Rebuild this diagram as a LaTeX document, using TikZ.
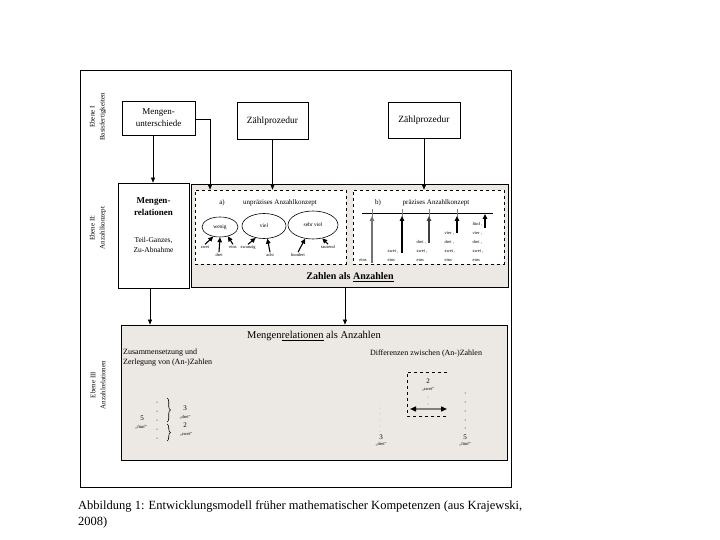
\documentclass[tikz,border=0pt]{standalone}
\usepackage{fontspec}
\setmainfont{Liberation Serif}
\usetikzlibrary{arrows.meta,decorations.pathreplacing,shapes.geometric}
\definecolor{panelc}{RGB}{236,233,229}
\begin{document}
\begin{tikzpicture}[x=1pt,y=-1pt,
  box/.style={draw, line width=0.7pt, fill=white, inner sep=0pt, align=center},
  panel/.style={draw, line width=0.8pt, fill=panelc, inner sep=0pt},
  dbox/.style={draw, dashed, line width=0.7pt, fill=white, inner sep=0pt},
  ell/.style={draw, ellipse, line width=0.6pt, inner sep=0pt, font=\fontsize{5.5}{6}\selectfont},
  arr/.style={-{Triangle[length=5pt,width=4pt]}, line width=0.6pt},
  sarr/.style={-{Triangle[length=5pt,width=4.5pt]}, line width=1.1pt},
  lvl/.style={rotate=90, align=center, font=\fontsize{7}{10}\selectfont},
  wlab/.style={inner sep=0.5pt, anchor=base, font=\fontsize{4.5}{9}\selectfont},
  qlab/.style={inner sep=0pt, font=\fontsize{4.5}{9}\selectfont},
  col/.style={inner sep=0pt, align=left, font=\fontsize{4.5}{9}\selectfont},
  hdr/.style={inner sep=0pt, font=\fontsize{7}{8}\selectfont},
  txt/.style={inner sep=0pt, align=left, font=\fontsize{8}{10}\selectfont},
  num/.style={inner sep=0pt, font=\fontsize{7}{8}\selectfont},
  dot/.style={fill=black, circle, inner sep=0pt, minimum size=1pt}
]
\useasboundingbox (0,0) rectangle (720,540);

% outer frame
\draw[line width=0.9pt] (80,70) rectangle (511,487);

% level labels
\node[lvl] (lvlI) at (98,117) {Ebene I\\Basisfertigkeiten};
\node[lvl] (lvlII) at (98,228) {Ebene II:\\Anzahlkonzept};
\node[lvl] (lvlIII) at (98,385) {Ebene III\\Anzahlrelationen};

% level I boxes
\node[box, minimum width=73pt, minimum height=34pt, font=\fontsize{9}{12}\selectfont] (mu) at (158.5,118) {Mengen-\\unterschiede};
\node[box, minimum width=71pt, minimum height=37pt, font=\fontsize{9.5}{11}\selectfont] (zp1) at (272.5,121) {Zählprozedur};
\node[box, minimum width=72pt, minimum height=36pt, font=\fontsize{9.5}{11}\selectfont] (zp2) at (424,120) {Zählprozedur};

% level II
\node[box, minimum width=71pt, minimum height=105pt] (mr) at (153.5,235.5) {};
\node[inner sep=0pt, align=center, font=\bfseries\fontsize{9}{12}\selectfont] (mrt) at (153.5,207) {Mengen-\\relationen};
\node[inner sep=0pt, align=center, font=\fontsize{7.5}{10}\selectfont] (mrs) at (153.5,245) {Teil-Ganzes,\\Zu-Abnahme};

\node[panel, minimum width=317pt, minimum height=103pt] (p2) at (349.5,235.5) {};
\node[dbox, minimum width=151pt, minimum height=74pt] (da) at (270.5,227) {};
\node[dbox, minimum width=151pt, minimum height=74pt] (db) at (428.5,227) {};
\node[inner sep=0pt, font=\bfseries\fontsize{10}{12}\selectfont] (p2t) at (350,277) {Zahlen als \underline{Anzahlen}};

% box a
\node[hdr] (ha) at (222,203) {a)};
\node[hdr] (hat) at (280,203) {unpräzises Anzahlkonzept};
\node[ell, minimum width=36pt, minimum height=20pt] (wenig) at (220,227) {wenig};
\node[ell, minimum width=44pt, minimum height=25pt] (viel) at (264,226) {viel};
\node[ell, minimum width=50pt, minimum height=28pt] (sviel) at (313,225) {sehr viel};
\node[wlab] (lzwei) at (205,248) {zwei};
\node[wlab] (ldrei) at (219,256) {drei};
\node[wlab] (leins) at (233,248) {eins};
\node[wlab] (lzwanzig) at (248,248) {zwanzig};
\node[wlab] (lacht) at (270,256) {acht};
\node[wlab] (lhundert) at (298,256) {hundert};
\node[wlab] (ltausend) at (328,248) {tausend};
\draw[sarr] (lzwei.north) -- (wenig.235);
\draw[sarr] (ldrei.north) -- (wenig.south);
\draw[sarr] (leins.north) -- (wenig.310);
\draw[sarr] (lzwanzig.north) -- (viel.235);
\draw[sarr] (lacht.north) -- (viel.285);
\draw[sarr] (lhundert.north) -- (sviel.240);
\draw[sarr] (ltausend.north) -- (sviel.305);

% box b
\node[hdr] (hb) at (378,203) {b)};
\node[hdr] (hbt) at (436,203) {präzises Anzahlkonzept};
\coordinate (nlL) at (362,213);
\coordinate (nlR) at (493,213);
\draw[line width=0.7pt] (nlL) -- (nlR);
\foreach \x in {372,402,429,457} \draw[line width=0.6pt, gray] (\x,209) -- (\x,217);
\node[col] (c1) at (363,260) {eins};
\node[col] (c2) at (393,255.5) {zwei ,\\eins};
\node[col] (c3) at (422,251) {drei ,\\zwei ,\\eins};
\node[col] (c4) at (450,246.5) {vier ,\\drei ,\\zwei ,\\eins};
\node[col] (c5) at (478,242) {fünf ,\\vier ,\\drei ,\\zwei ,\\eins};
\coordinate (b1) at (372,263); \coordinate (t1) at (372,216);
\coordinate (b2) at (402,253); \coordinate (t2) at (402,216);
\coordinate (b3) at (429,243); \coordinate (t3) at (429,216);
\coordinate (b4) at (457,233); \coordinate (t4) at (457,216);
\coordinate (b5) at (485,228); \coordinate (t5) at (485,214);
\draw[sarr, black!55] (b1) -- (t1);
\draw[sarr] (b2) -- (t2);
\draw[sarr, black!75] (b3) -- (t3);
\draw[sarr] (b4) -- (t4);
\draw[sarr] (b5) -- (t5);

% level III panel
\node[panel, minimum width=386pt, minimum height=135pt] (p3) at (314,392.5) {};
\node[inner sep=0pt, font=\fontsize{10.5}{12}\selectfont] (p3t) at (314,336) {Mengen\underline{relationen} als Anzahlen};
\node[txt, anchor=west] (zus) at (123,358) {Zusammensetzung und\\Zerlegung von (An-)Zahlen};
\node[txt, anchor=west] (diff) at (370,354) {Differenzen zwischen (An-)Zahlen};

% composition
\foreach \y in {402,411,420,429,438} \node[dot] at (157,\y) {};
\node[num] (five) at (142,418) {5};
\node[qlab] (fuenf) at (141,427) {„fünf“};
\draw[decorate, decoration={brace, amplitude=3.5pt}, line width=0.6pt] (167,398) -- (167,422);
\draw[decorate, decoration={brace, amplitude=3.5pt}, line width=0.6pt] (167,424) -- (167,441);
\node[num] (three) at (185,408) {3};
\node[qlab] (drei2) at (185,417) {„drei“};
\node[num] (two) at (185,425) {2};
\node[qlab] (zwei2) at (186,434) {„zwei“};

% differences
\foreach \y in {408,414,420,426,431} \node[dot, fill=gray!60] at (380,\y) {};
\node[num] (three3) at (381,437) {3};
\node[qlab] (drei3) at (381,444) {„drei“};
\foreach \y in {393,402,411,420,428} \node[dot] at (465,\y) {};
\node[num] (five3) at (465,437) {5};
\node[qlab] (fuenf3) at (465,444) {„fünf“};
\draw[dashed, line width=0.8pt] (447,372) -- (407,372) -- (407,416) -- (447,416);
\node[num] (two3) at (428,381) {2};
\node[qlab] (zwei3) at (428,389) {„zwei“};
\node[dot, fill=gray] at (428,397) {};
\node[dot, fill=gray] at (428,404) {};
\coordinate (da1) at (410,409);
\coordinate (da2) at (447,409);
\draw[{Triangle[length=6pt,width=5pt,color=black]}-{Triangle[length=6pt,width=5pt,color=black]}, line width=1.4pt, draw=gray] (da1) -- (da2);

% connectors
\coordinate (mur) at (210,119);
\draw[arr] (mu.south -| 153,0) -- (mr.north -| 153,0);
\draw[arr] (mu.east |- mur) -- (mur) -- (da.north -| mur);
\draw[arr] (zp1.south) -- (da.north -| zp1.south);
\draw[arr] (zp2.south) -- (db.north -| zp2.south);
\draw[arr] (mr.south -| 150,0) -- (p3.north -| 150,0);
\draw[arr] (p2.south -| 345,0) -- (p3.north -| 345,0);

% caption
\node[anchor=base west, inner sep=0pt, font=\fontsize{12.5}{14}\selectfont] (cap1) at (78,509) {Abbildung 1: Entwicklungsmodell früher mathematischer Kompetenzen (aus Krajewski,};
\node[anchor=base west, inner sep=0pt, font=\fontsize{12.5}{14}\selectfont] (cap2) at (78,525) {2008)};
\end{tikzpicture}
\end{document}
